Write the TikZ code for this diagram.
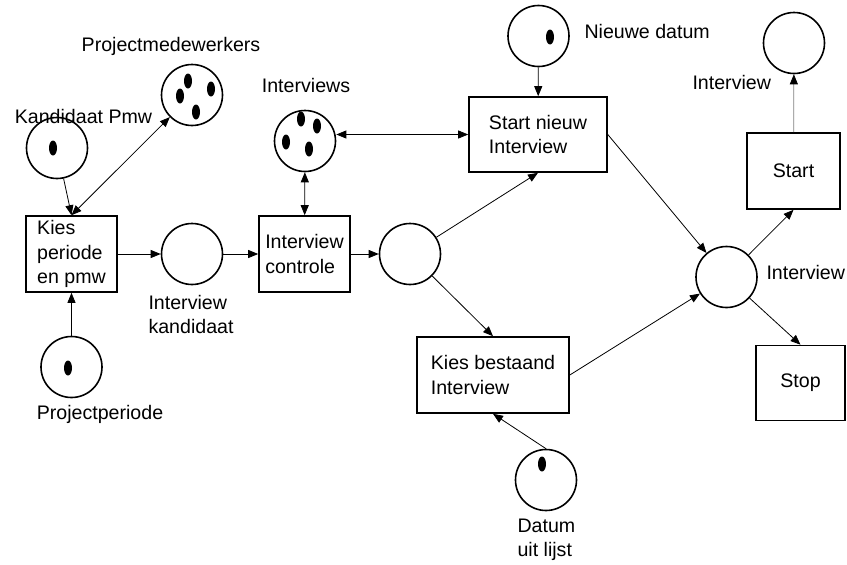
\documentclass[tikz,border=0pt]{standalone}
\usepackage{fontspec}
\setmainfont{Liberation Sans}
\usetikzlibrary{arrows.meta,shapes.geometric}
\tikzset{plaats/.style={
  % The shape:
  circle,
  % The size:
  minimum size=61pt, inner sep=0pt,
  % The border:
  line width=1.6pt, draw=black,
  }
}
\tikzset{transitie/.style={
  % The shape:
  rectangle,
  % The size:
  minimum height=76pt, minimum width=#1,
  % The border:
  line width=1.6pt, draw=black,
  % Text:
  align=left,
  }
}
\tikzset{token/.style={ellipse, fill=black, inner sep=0pt,
  minimum width=8pt, minimum height=15pt}}

\begin{document}
\begin{tikzpicture}[x=1pt,y=-1pt,font=\fontsize{19.6pt}{24.5pt}\selectfont,
    tip/.tip={Triangle[length=10pt,width=8pt]},
    arc/.style={-tip,line width=0.8pt},
    dubbel/.style={tip-tip,line width=0.8pt}]
  \useasboundingbox (0,0) rectangle (847,565);

  % Places:
  \node (kandpmw)    [plaats] at (57,148)    {};
  \node (pmw)        [plaats] at (192,95)    {};
  \node (periode)    [plaats] at (71.5,367)  {};
  \node (intkand)    [plaats] at (192,254)   {};
  \node (interviews) [plaats] at (305,141)   {};
  \node (keuze)      [plaats] at (410,254)   {};
  \node (nwdatum)    [plaats] at (538.5,36)  {};
  \node (lijst)      [plaats] at (546,480)   {};
  \node (interview)  [plaats] at (726.5,277) {};
  \node (intstart)   [plaats] at (794,43)    {};

  % Transitions:
  \node (kies)     [transitie=91pt]  at (71.5,254)  {Kies\\periode\\en pmw};
  \node (controle) [transitie=91pt]  at (304.5,254) {Interview\\controle};
  \node (nieuw)    [transitie=138pt,minimum height=75pt] at (538,134.5) {Start nieuw\\Interview};
  \node (bestaand) [transitie=152pt] at (493,375)   {Kies bestaand\\Interview};
  \node (start)    [transitie=93pt]  at (793.5,171) {Start};
  \node (stop)     [transitie=89pt,minimum height=75pt] at (800.5,383) {Stop};

  % Tokens:
  \node (kandpmw-t)    [token] at (53,148)  {};
  \node (pmw-t1)       [token] at (188,81)  {};
  \node (pmw-t2)       [token] at (211,89)  {};
  \node (pmw-t3)       [token] at (180,96)  {};
  \node (pmw-t4)       [token] at (196,112) {};
  \node (interviews-t1) [token] at (301,119) {};
  \node (interviews-t2) [token] at (317,126) {};
  \node (interviews-t3) [token] at (286,142) {};
  \node (interviews-t4) [token] at (309,149) {};
  \node (nwdatum-t)    [token] at (550,37)  {};
  \node (periode-t)    [token] at (68,368)  {};
  \node (lijst-t)      [token] at (542,464) {};

  % Labels:
  \node (l-pmw)        at (171,46)   {Projectmedewerkers};
  \node (l-kandpmw)    at (83.5,116) {Kandidaat Pmw};
  \node (l-interviews) at (306,85)   {Interviews};
  \node (l-intkand)    [anchor=west,align=left] at (145,314.5) {Interview\\kandidaat};
  \node (l-periode)    at (100,414)  {Projectperiode};
  \node (l-nwdatum)    [anchor=west] at (581,31)  {Nieuwe datum};
  \node (l-intstart)   [anchor=west] at (689,82)  {Interview};
  \node (l-interview)  [anchor=west] at (763,272) {Interview};
  \node (l-lijst)      [anchor=west,align=left] at (514,540) {Datum\\uit lijst};

  % Arcs:
  \draw [arc] (kandpmw) -- (kies.north);
  \draw [dubbel] (pmw) -- (kies.north);
  \draw [arc] (periode) -- (kies);
  \draw [arc] (kies) -- (intkand);
  \draw [arc] (intkand) -- (controle);
  \draw [arc] (controle) -- (keuze);
  \draw [dubbel] (interviews) -- (controle);
  \draw [dubbel] (interviews.east |- nieuw.west) -- (nieuw.west);
  \draw [arc] (nwdatum) -- (nieuw);
  \draw [arc] (keuze) -- (nieuw.south);
  \draw [arc] (keuze) -- (bestaand.north);
  \draw [arc] (lijst.north) -- (bestaand.south);
  \draw [arc] (nieuw.east) -- (interview);
  \draw [arc] (bestaand.east) -- (interview);
  \draw [arc] (interview) -- (start.south);
  \draw [arc] (interview) -- (stop.north);
  \draw [arc,draw=gray,-{Triangle[length=10pt,width=8pt,color=black]}] (start) -- (intstart);
\end{tikzpicture}
\end{document}
